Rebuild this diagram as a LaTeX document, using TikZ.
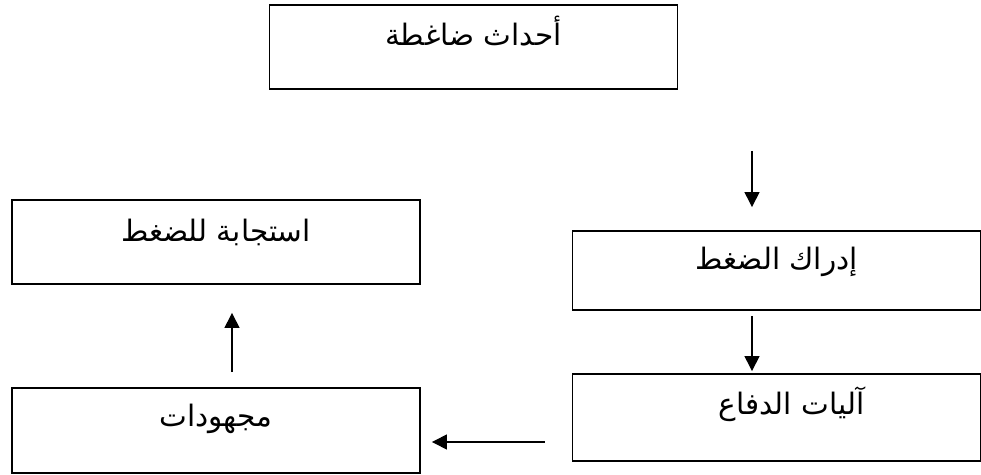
\documentclass[tikz,border=0pt]{standalone}
\usepackage{fontspec}
\usepackage{tikz}
\usetikzlibrary{positioning}
\usetikzlibrary{arrows.meta}
\newfontfamily\arabicfont[Script=Arabic]{DejaVu Sans}
\TeXXeTstate=1

\tikzset{
  box/.style={draw, line width=1.9pt, rectangle, minimum width=408pt, minimum height=84pt, inner sep=0pt},
  lbl/.style={font=\arabicfont\fontsize{29.5}{34}\selectfont, inner sep=0pt, anchor=base},
  arr/.style={-{Triangle[length=15pt,width=15pt]}, line width=1.4pt}
}

\begin{document}
\begin{tikzpicture}[x=1pt,y=1pt,on grid,node distance=147pt]
   \useasboundingbox (0,0) rectangle (981,474);
   \node[box] (b_0) at (473.5,427) {};
   \node[box, minimum height=79pt] (b_1) [below right=223.5pt and 303pt of b_0] {};
   \node[box, minimum height=87pt] (b_2) [below=of b_1] {};
   \node[box] (b_3) [below left=195pt and 257.5pt of b_0] {};
   \node[box, minimum height=85pt] (b_4) [below=188.5pt of b_3] {};
   % texts
   \node[lbl] (t_0) at ([yshift=-41pt]b_0.north) {\beginR أحداث ضاغطة\endR};
   \node[lbl] (t_1) at ([yshift=-39pt]b_1.north) {\beginR إدراك الضغط\endR};
   \node[lbl] (t_2) at ([xshift=15pt,yshift=-41pt]b_2.north) {\beginR آليات الدفاع\endR};
   \node[lbl] (t_3) at ([yshift=-42pt]b_3.north) {\beginR استجابة للضغط\endR};
   \node[lbl] (t_4) at ([yshift=-39pt]b_4.north) {\beginR مجهودات\endR};
   % arrows
   \coordinate (x_a) at ([xshift=-24.5pt]b_1.north);
   \coordinate (y_a) at ([yshift=-24.5pt]b_2.west);
   \coordinate (x_b) at ([xshift=16pt]b_4.north);
   \draw[arr, shorten <=61pt, shorten >=23pt] (b_0.south -| x_a) -- (x_a);
   \draw[arr, shorten <=5pt, shorten >=2pt] (b_1.south -| x_a) -- (b_2.north -| x_a);
   \draw[arr, shorten <=27pt, shorten >=11pt] (y_a) -- (y_a -| b_4.east);
   \draw[arr, shorten <=15pt, shorten >=28pt] (x_b) -- (x_b |- b_3.south);
\end{tikzpicture}
\end{document}
